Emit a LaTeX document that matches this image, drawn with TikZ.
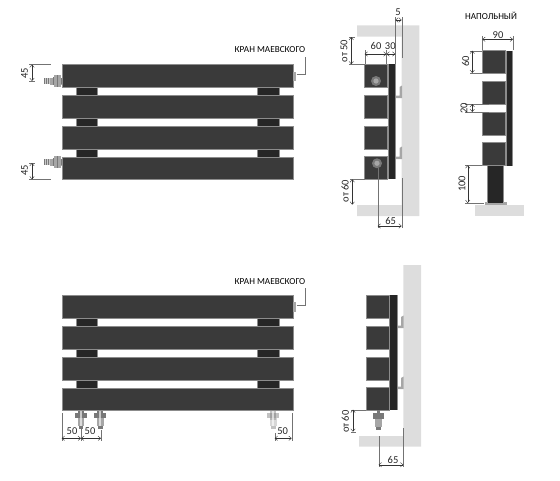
\documentclass[tikz,border=0pt]{standalone}
\usepackage{fontspec}
\setmainfont{Carlito}
\usetikzlibrary{arrows.meta}
\definecolor{panel}{HTML}{3A3A3A}
\definecolor{riser}{HTML}{262626}
\definecolor{edge}{HTML}{8C8C8C}
\definecolor{wall}{HTML}{DDDDDD}
\definecolor{metal}{HTML}{A6A6A6}
\definecolor{metald}{HTML}{787878}
\tikzset{
  x=1pt,y=-1pt,
  panelbox/.style={fill=panel,draw=edge,line width=.5pt},
  riserbox/.style={fill=riser,draw=edge,line width=.5pt},
  wallfill/.style={fill=wall,draw=none},
  extline/.style={draw=black!55,line width=.4pt},
  dimline/.style={draw=black!80,line width=.4pt,{Straight Barb[length=2.6pt,width=4.4pt]}-{Straight Barb[length=2.6pt,width=4.4pt]}},
  lbl/.style={font=\fontsize{10.5}{10.5}\selectfont,text=black!85,inner sep=0pt},
  vlbl/.style={lbl,rotate=90},
  title/.style={font=\fontsize{9.2}{9.2}\selectfont,text=black,inner sep=0pt},
  leaderline/.style={draw=black!55,line width=.4pt},
}
\newcommand{\frontrad}[1]{%
  \begin{scope}[shift={(0,#1)}]
    \draw[riserbox] (76.5,20) rectangle (97.5,95);
    \draw[riserbox] (257,20) rectangle (279,95);
    \draw[panelbox] (62,0) rectangle (293,22.5);
    \draw[panelbox] (62,31) rectangle (293,53.5);
    \draw[panelbox] (62,62) rectangle (293,84.5);
    \draw[panelbox] (62,92.5) rectangle (293,115);
    \fill[metal] (293,7) rectangle (295.5,16.5);
    \draw[leaderline] (296.7,10) -- (305,10) -- (305,-7.5);
  \end{scope}}
\newcommand{\sidepanels}[5]{%
  \begin{scope}[shift={(#1,#2)}]
    \draw[panelbox] (0,0) rectangle (#3,23);
    \draw[panelbox] (0,30.7) rectangle (#3,53.7);
    \draw[panelbox] (0,61.7) rectangle (#3,84.7);
    \draw[panelbox] (0,92) rectangle (#3,115);
    \fill[riser] (#3+#4,0) rectangle (#3+#5,115);
    \draw[edge,line width=.5pt] (#3+#5,0) -- (#3+#5,115) (#3+#4-.3,0) -- (#3+#4-.3,115);
  \end{scope}}
\newcommand{\bracket}[2]{%
  \fill[metal,shift={(#1,#2)}] (0,8.5) -- (4.5,8.5) -- (4.5,0) -- (7,-1.5) -- (7,11) -- (0,11) -- cycle;}
\newcommand{\sidevalve}[2]{%
  \begin{scope}[shift={(#1,#2)}]
    \fill[metal] (-12,-3.4) rectangle (0,3.6);
    \fill[metald] (-18,-3) rectangle (-12,3.2);
    \draw[metal!60!white,line width=.4pt] (-17,-3) -- (-17,3.2) (-15,-3) -- (-15,3.2) (-13,-3) -- (-13,3.2);
    \fill[metald] (-9,-3.6) rectangle (-7.7,3.8);
    \fill[metal] (-7.7,-6) rectangle (-1.3,6.3);
    \fill[metald] (-5.2,-6) rectangle (-3.8,6.3);
    \fill[metald] (-1.3,-3) rectangle (0,3);
  \end{scope}}
\newcommand{\bottomvalve}[3]{%
  \begin{scope}[shift={(#1,#2)},opacity=#3]
    \fill[metald] (-3,0) rectangle (3,9);
    \fill[metald] (-6,2.5) rectangle (6,7.5);
    \fill[metal] (-3.4,7.5) rectangle (3.4,15.5);
    \fill[metald] (-2.2,15.5) rectangle (2.2,18);
    \fill[white,opacity=.6] (-1,0) rectangle (1,15.5);
  \end{scope}}
\begin{document}
\begin{tikzpicture}
\useasboundingbox (0,0) rectangle (560,480);
% front view, top
\sidevalve{62}{81}
\sidevalve{62}{162}
\frontrad{64.5}
\node[title] (krana) at (270,50) {КРАН МАЕВСКОГО};
\draw[extline] (29,64.5) -- (51,64.5);
\draw[extline] (29,81) -- (35,81);
\draw[dimline] (32,64.5) -- (32,81);
\node[vlbl] (d45a) at (24.5,73) {45};
\draw[extline] (29,179.3) -- (51,179.3);
\draw[extline] (29,163) -- (35,163);
\draw[dimline] (32,163) -- (32,179.3);
\node[vlbl] (d45b) at (24.5,170) {45};
% side view, top
\fill[wallfill] (357,25.3) -- (419.3,25.3) -- (419.3,216) -- (357,216) -- (357,205) -- (401.7,205) -- (401.7,36.7) -- (357,36.7) -- cycle;
\bracket{395}{87}
\bracket{395}{148}
\sidepanels{364.7}{64.3}{23}{.5}{7.5}
\fill[metald] (376,81) circle (5);
\fill[metal] (376,81) circle (2.6);
\fill[metald] (377,163.3) circle (5);
\fill[metal] (377,163.3) circle (2.6);
\draw[extline] (401.7,17) -- (401.7,58);
\draw[extline] (395.3,17) -- (395.3,64);
\draw[dimline] (395.3,20) -- (401.7,20);
\node[lbl] (d5) at (398,12) {5};
\draw[extline] (364.7,50) -- (364.7,64);
\draw[extline] (386.5,50) -- (386.5,64);
\draw[dimline] (364.7,54) -- (386.5,54);
\draw[dimline] (386.5,54) -- (395.3,54);
\node[lbl] (d60a) at (376,45.7) {60};
\node[lbl] (d30) at (390.3,45.7) {30};
\draw[extline] (349,37) -- (355,37);
\draw[extline] (349,64.3) -- (364.7,64.3);
\draw[dimline] (351.3,37) -- (351.3,64.3);
\node[vlbl] (ot50) at (344,51) {от 50};
\draw[extline] (350,179.3) -- (365,179.3);
\draw[dimline] (352.3,179.3) -- (352.3,204.7);
\node[vlbl] (ot60a) at (345,191) {от 60};
\draw[extline] (377.7,168) -- (377.7,228);
\draw[extline] (401.7,178) -- (401.7,228);
\draw[dimline] (377.7,226) -- (401.7,226);
\node[lbl] (d65a) at (390.7,221) {65};
% floor view
\node[title] (floor) at (491,15.7) {НАПОЛЬНЫЙ};
\fill[wallfill] (475,205) rectangle (524,216);
\draw[riserbox] (487,165.3) rectangle (503.7,202);
\fill[metal] (484.7,202) rectangle (506.7,205);
\fill[riser] (488,165.3) rectangle (502.7,202.5);
\sidepanels{482.3}{50.7}{23.2}{.6}{7.2}
\draw[extline] (482.3,36) -- (482.3,50);
\draw[extline] (513,36) -- (513,50);
\draw[dimline] (482.3,39.3) -- (513,39.3);
\node[lbl] (d90) at (498,35) {90};
\draw[extline] (470,50.7) -- (482,50.7);
\draw[extline] (470,73) -- (482,73);
\draw[dimline] (472.3,50.7) -- (472.3,73);
\node[vlbl] (d60b) at (465.7,61.3) {60};
\draw[extline] (465,104) -- (489,104);
\draw[extline] (465,112) -- (489,112);
\draw[dimline] (472.3,104) -- (472.3,112);
\node[vlbl] (d20) at (464,108.3) {20};
\draw[extline] (465,165.3) -- (482,165.3);
\draw[extline] (465,203) -- (484,203);
\draw[dimline] (467.7,165.3) -- (467.7,203);
\node[vlbl] (d100) at (462,184) {100};
% front view, bottom
\frontrad{295.3}
\node[title] (kranb) at (270,281.7) {КРАН МАЕВСКОГО};
\bottomvalve{81}{410.5}{1}
\bottomvalve{100.3}{410.5}{1}
\bottomvalve{273.3}{410.5}{.45}
\draw[extline] (61.7,413) -- (61.7,441);
\draw[extline] (81,428) -- (81,441);
\draw[extline] (101,430) -- (101,441);
\draw[dimline] (61.7,438.3) -- (81,438.3);
\draw[dimline] (81,438.3) -- (101,438.3);
\node[lbl] (d50a) at (72,431) {50};
\node[lbl] (d50b) at (90,431) {50};
\draw[extline] (291.7,413) -- (291.7,441);
\draw[extline] (274.7,433) -- (274.7,441);
\draw[dimline] (274.7,438.3) -- (291.7,438.3);
\node[lbl] (d50c) at (282.7,431) {50};
% side view, bottom
\fill[wallfill] (403.3,265) -- (421,265) -- (421,446.7) -- (359,446.7) -- (359,436) -- (403.3,436) -- cycle;
\bracket{396.5}{317}
\bracket{396.5}{378}
\sidepanels{366.3}{295.3}{23}{.5}{7.5}
\fill[metald] (376.7,410) rectangle (380,419);
\fill[metald] (372.7,413.3) rectangle (384,419);
\fill[metal] (374.7,419) rectangle (382,427);
\fill[metald] (376,427) rectangle (380.7,429.5);
\draw[extline] (351,409.7) -- (366,409.7);
\draw[extline] (351,431.7) -- (356,431.7);
\draw[dimline] (353,409.7) -- (353,431.7);
\node[vlbl] (ot60b) at (345.3,421.7) {от 60};
\draw[extline] (378.7,436) -- (378.7,467);
\draw[extline] (403.3,428) -- (403.3,467);
\draw[dimline] (378.7,464.7) -- (403.3,464.7);
\node[lbl] (d65b) at (393,460) {65};
\end{tikzpicture}
\end{document}
